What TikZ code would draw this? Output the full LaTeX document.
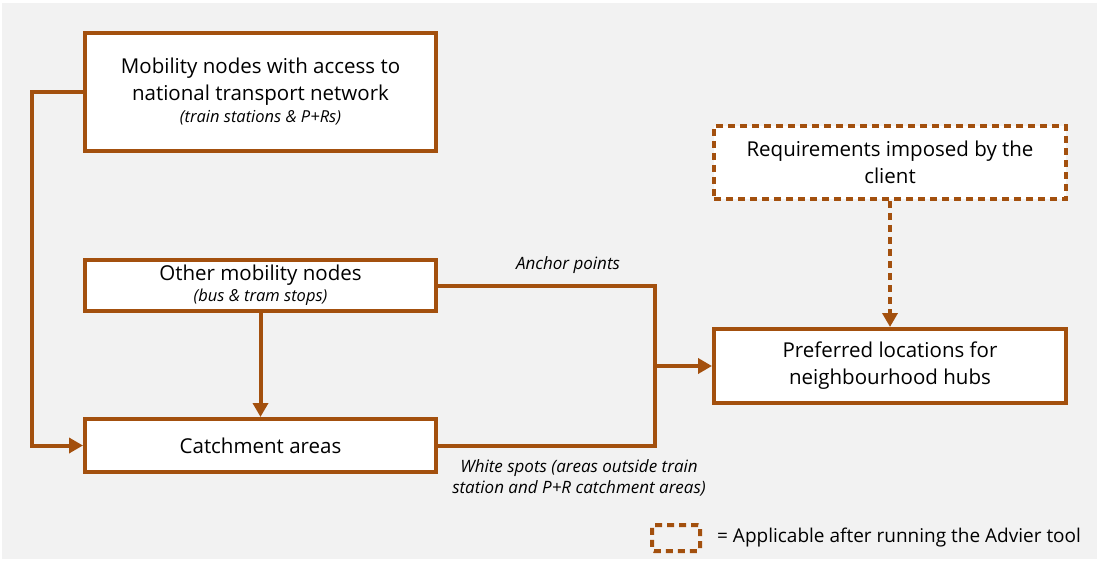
\documentclass[tikz,border=0pt]{standalone}
\usepackage{fontspec}
\setmainfont{Open Sans}
\usetikzlibrary{arrows.meta,positioning}

\definecolor{bgray}{RGB}{242,242,242}
\definecolor{rust}{RGB}{163,80,14}

\newcommand\subtext{\fontsize{16.5}{20}\selectfont\itshape}

\tikzset{
  box/.style={draw=rust, line width=4pt, fill=white, align=center,
    inner sep=0pt, font=\fontsize{20.5}{27}\selectfont},
  dashbox/.style={box, dash pattern=on 7pt off 5pt},
  link/.style={draw=rust, line width=4pt},
  arrowlink/.style={link, -{Triangle[length=14pt,width=15pt]}},
  note/.style={font=\fontsize{17}{21}\selectfont\itshape, align=center, inner sep=0pt}
}

\begin{document}
\begin{tikzpicture}[x=1pt,y=-1pt]
  % canvas
  \fill[white] (0,0) rectangle (1097,561);
  \fill[bgray] (2,3) rectangle (1097,559);
  \useasboundingbox (0,0) rectangle (1097,561);

  % boxes
  \node[box, minimum width=351pt, minimum height=118pt] (mob) at (260.5,92)
    {Mobility nodes with access to\\national transport network\\[-5pt]{\subtext (train stations \& P+Rs)}};
  \node[box, minimum width=351pt, minimum height=51pt] (other) at (260.5,285.5)
    {Other mobility nodes\\[-6pt]{\subtext (bus \& tram stops)}};
  \node[box, minimum width=351pt, minimum height=53pt] (catch) at (260.5,445.5)
    {Catchment areas};
  \node[dashbox, minimum width=352pt, minimum height=73pt] (req) at (890,162.5)
    {Requirements imposed by the\\client};
  \node[box, minimum width=352pt, minimum height=74pt] (pref) at (890,366)
    {Preferred locations for\\neighbourhood hubs};

  % routing points
  \coordinate (lx) at (32,92);
  \coordinate (jx) at (655,366);

  % connectors
  \draw[arrowlink] (mob.west) -- (lx) |- (catch.west);
  \draw[arrowlink] (other.south) -- (catch.north);
  \draw[link] (other.east) -| (jx);
  \draw[link] (catch.east) -| (jx);
  \draw[arrowlink] (jx) -- (pref.west);
  \draw[arrowlink, dash pattern=on 7pt off 5pt] (req.south) -- (pref.north);

  % connector labels
  \node[note] (anchor) at (568,265) {Anchor points};
  \node[note] (white) at (579,478) {White spots (areas outside train\\station and P+R catchment areas)};

  % legend
  \node[draw=rust, line width=4pt, dash pattern=on 7pt off 5pt, rounded corners=2pt,
        minimum width=48pt, minimum height=26pt, inner sep=0pt] (key) at (676,538) {};
  \node[anchor=west, inner sep=0pt, font=\fontsize{19}{24}\selectfont] (keytext)
    at ([xshift=15pt]key.east) {= Applicable after running the Advier tool};
\end{tikzpicture}
\end{document}
